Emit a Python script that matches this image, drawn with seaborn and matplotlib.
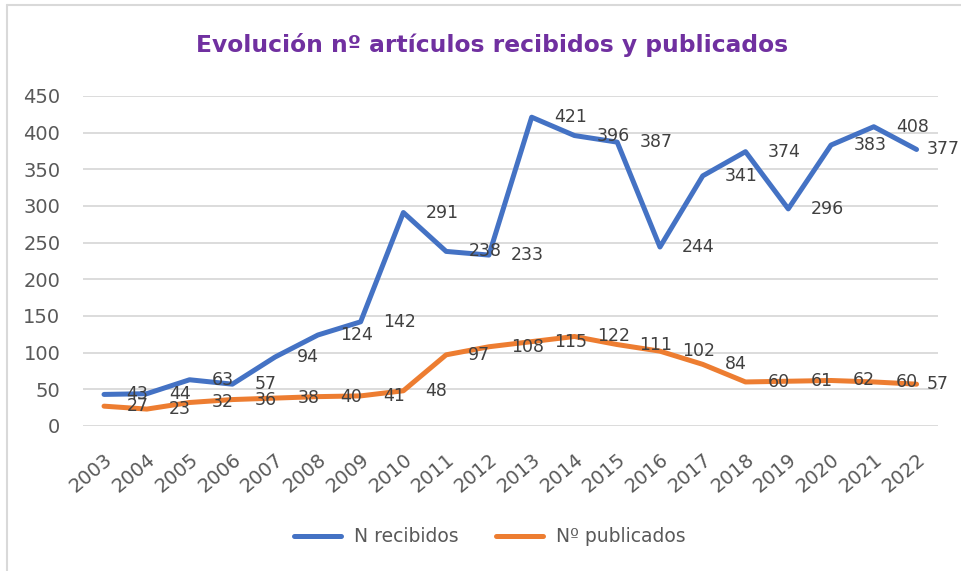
import seaborn as sns
import matplotlib.pyplot as plt
import pandas as pd
from matplotlib.lines import Line2D

years = [str(y) for y in range(2003, 2023)]
recibidos = [43, 44, 63, 57, 94, 124, 142, 291, 238, 233,
             421, 396, 387, 244, 341, 374, 296, 383, 408, 377]
publicados = [27, 23, 32, 36, 38, 40, 41, 48, 97, 108,
              115, 122, 111, 102, 84, 60, 61, 62, 60, 57]
series_names = ['N recibidos', 'Nº publicados']
colors = ['#4472C4', '#ED7D31']

df = pd.DataFrame({'year': years * 2,
                   'value': recibidos + publicados,
                   'serie': [series_names[0]] * len(years) + [series_names[1]] * len(years)})

sns.set_style('white')
plt.rcParams['font.family'] = ['DejaVu Sans']
txt = '#595959'

fig = plt.figure(figsize=(9.61, 5.71), dpi=100)
ax = fig.add_axes([0.086, 0.254, 0.89, 0.578])

sns.lineplot(data=df, x='year', y='value', hue='serie', palette=colors,
             linewidth=3.6, sort=False, ax=ax, legend=False)
last = len(years) - 1
for vals in [recibidos, publicados]:
    for j, v in enumerate(vals):
        off = 7 if j == last else 16
        ax.annotate(str(v), (j, v), xytext=(off, 0), textcoords='offset points',
                    ha='left', va='center', fontsize=12.5, color='#404040')

ax.set_xlim(-0.5, len(years) - 0.5)
ax.set_ylim(0, 450)
ax.set_yticks(range(0, 451, 50))
ax.yaxis.grid(True, color='#D9D9D9', linewidth=1.3)
ax.xaxis.grid(False)
for s in ax.spines.values():
    s.set_visible(False)
ax.tick_params(axis='y', length=0, pad=16, labelsize=14, labelcolor=txt)
ax.tick_params(axis='x', length=0, pad=17, labelsize=14, labelcolor=txt)
plt.setp(ax.get_xticklabels(), rotation=40, ha='right', rotation_mode='anchor')
ax.set_xlabel('')
ax.set_ylabel('')

fig.text(0.512, 0.921, 'Evolución nº artículos recibidos y publicados',
         ha='center', va='center', fontsize=16.8, fontweight='bold', color='#7030A0')

handles = [Line2D([0], [0], color=c, lw=3.6) for c in colors]
fig.legend(handles, series_names, loc='center', bbox_to_anchor=(0.51, 0.06),
           ncol=2, frameon=False, fontsize=13.5, labelcolor=txt,
           handlelength=2.5, handletextpad=0.7, columnspacing=2.0)

# chart area border
fig.add_artist(Line2D([0.0073, 1.0], [0.991, 0.991], color='#D9D9D9', lw=1.5))
fig.add_artist(Line2D([0.0073, 0.0073], [0.0, 0.991], color='#D9D9D9', lw=1.5))

fig.savefig('out.png', dpi=100)
